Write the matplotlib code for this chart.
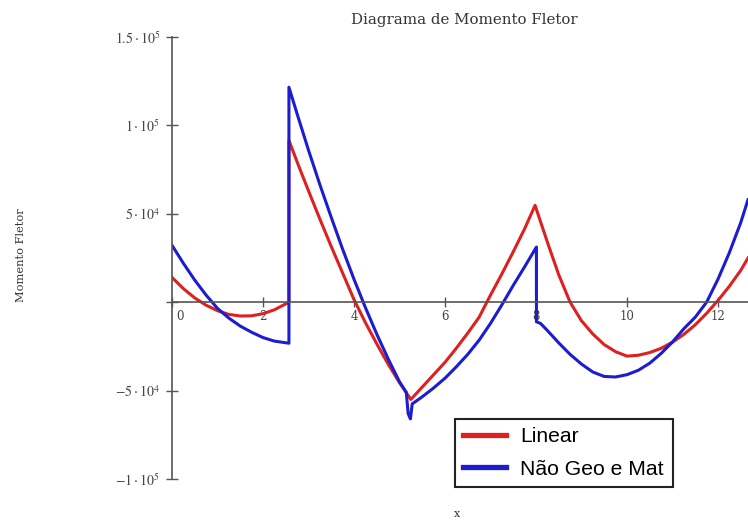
import matplotlib
matplotlib.use('Agg')
import matplotlib.pyplot as plt
import matplotlib.transforms as mtransforms

# Linear
x_lin = [0, 0.25, 0.5, 0.75, 1.0, 1.25, 1.5, 1.75, 2.0, 2.25, 2.57,
         2.57, 2.8, 3.0, 3.25, 3.5, 3.75, 4.0, 4.25, 4.5, 4.75, 5.0, 5.25,
         5.5, 5.75, 6.0, 6.25, 6.5, 6.75, 7.0, 7.25, 7.5, 7.75, 7.98,
         8.25, 8.5, 8.75, 9.0, 9.25, 9.5, 9.75, 10.0, 10.25, 10.5, 10.75,
         11.0, 11.25, 11.5, 11.75, 12.0, 12.25, 12.5, 12.66]
m_lin = [14000, 7700, 2400, -1700, -4800, -6900, -7800, -7700, -6500, -4300, 0,
         91500, 76000, 63000, 47000, 31500, 16500, 1500, -11500, -23500, -35000, -45500, -55000,
         -48000, -41000, -34000, -26000, -17500, -8500, 4000, 16000, 28500, 41500, 54800,
         34000, 15500, 0, -10500, -18000, -24000, -28000, -30500, -30000, -28500, -26100,
         -22600, -18200, -12800, -6300, 1000, 9000, 18000, 25000]

# Nao linear geometrico e material
x_nl = [0, 0.25, 0.5, 0.75, 1.0, 1.25, 1.5, 1.75, 2.0, 2.25, 2.57,
        2.57, 2.75, 3.0, 3.25, 3.5, 3.75, 4.0, 4.25, 4.5, 4.75, 5.0, 5.15,
        5.19, 5.24, 5.28, 5.5, 5.75, 6.0, 6.25, 6.5, 6.75, 7.0, 7.25, 7.5, 7.75, 8.01,
        8.01, 8.1, 8.25, 8.5, 8.75, 9.0, 9.25, 9.5, 9.75, 10.0, 10.25, 10.5, 10.75,
        11.0, 11.25, 11.5, 11.75, 12.0, 12.25, 12.5, 12.66]
m_nl = [32200, 22000, 12500, 4000, -3500, -9000, -13500, -17000, -20000, -22000, -23200,
        121600, 106500, 86000, 66500, 48000, 30000, 13000, -3000, -18000, -32000, -45000, -51000,
        -63000, -66000, -57500, -53500, -48500, -43000, -36500, -29500, -21500, -12000, -1500, 9500, 20000, 31200,
        -11100, -12000, -16000, -23000, -29500, -35000, -39500, -42000, -42300, -41000, -38500, -34500, -29000,
        -22500, -15000, -8500, 0, 13000, 28000, 45000, 58000]

xticks = [0, 2, 4, 6, 8, 10, 12]
yticks = [150000, 100000, 50000, 0, -50000, -100000]
ylabels = [r'$1.5\cdot 10^{5}$', r'$1\cdot 10^{5}$', r'$5\cdot 10^{4}$', '',
           r'$-5\cdot 10^{4}$', r'$-1\cdot 10^{5}$']

plt.rcParams['mathtext.fontset'] = 'stix'
plt.rcParams['font.family'] = 'DejaVu Serif'

W, H = 748, 521
fig = plt.figure(figsize=(W / 100, H / 100), dpi=100)
ax = fig.add_axes([172 / W, 42 / H, 576 / W, 442 / H])

ax.plot(x_lin, m_lin, color='#dd2020', lw=2.2, label='Linear')
ax.plot(x_nl, m_nl, color='#1c1cd0', lw=2.2, label='Não Geo e Mat')

ax.set_xlim(0, 12.66)
ax.set_ylim(-100000, 150000)

ax.spines['left'].set_position(('data', 0))
ax.spines['bottom'].set_position(('data', 0))
ax.spines['top'].set_visible(False)
ax.spines['right'].set_visible(False)
for s in ['left', 'bottom']:
    ax.spines[s].set_color('#555555')
    ax.spines[s].set_linewidth(1.2)

ax.set_xticks(xticks)
ax.set_xticklabels([str(t) for t in xticks])
ax.set_yticks(yticks)
ax.set_yticklabels(ylabels)
ax.tick_params(axis='x', direction='inout', length=7, width=1, color='#555555',
               labelsize=8.5, pad=2, labelcolor='#444444')
ax.tick_params(axis='y', direction='inout', length=9, width=1, color='#555555',
               labelsize=10, pad=4, labelcolor='#444444')
# the 0 label sits a little right of the y axis
off = mtransforms.ScaledTranslation(6 / 72, 0, fig.dpi_scale_trans)
ax.get_xticklabels()[0].set_transform(ax.get_xticklabels()[0].get_transform() + off)

fig.text(464 / W, 1 - 20 / H, 'Diagrama de Momento Fletor', ha='center', va='center',
         fontsize=10.8, color='#333333')
fig.text(21 / W, 1 - 255 / H, 'Momento Fletor', rotation=90, ha='center', va='center',
         fontsize=8.2, color='#333333')
fig.text(457 / W, 1 - 514 / H, 'x', ha='center', va='center', fontsize=8, color='#333333')

leg = ax.legend(loc='lower left', bbox_to_anchor=(455 / W, 34 / H), bbox_transform=fig.transFigure,
                fancybox=False, edgecolor='#222222', framealpha=1, borderaxespad=0,
                prop={'family': 'Liberation Sans', 'size': 15.2}, handlelength=2.0,
                handletextpad=0.7, labelspacing=0.62, borderpad=0.4)
leg.get_frame().set_linewidth(1.5)
for line in leg.get_lines():
    line.set_linewidth(3.8)

fig.savefig('out.png', dpi=100)
